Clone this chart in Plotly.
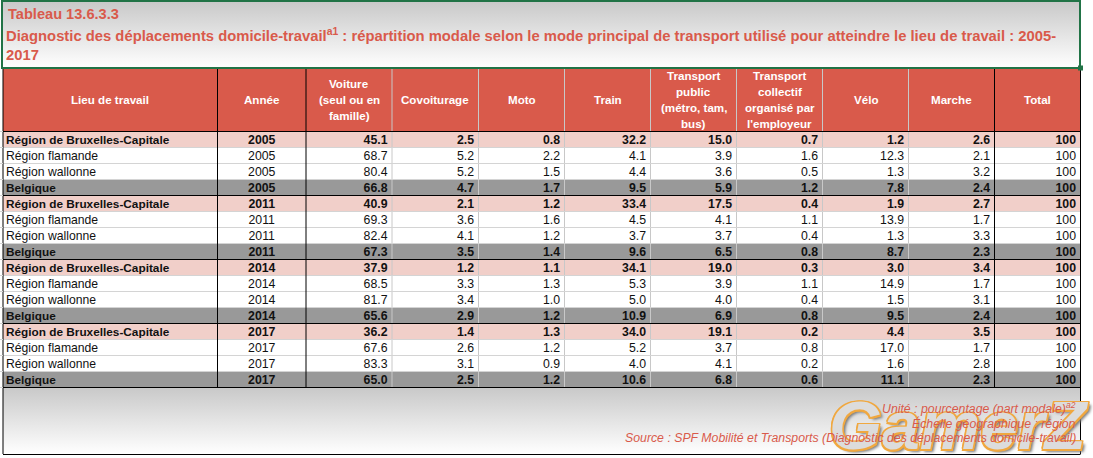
import plotly.graph_objects as go

W = 1093
H = 458

RED = "#d95a4b"
PINK = "#f1cfc9"
GREY = "#999999"

title_top = "Tableau 13.6.3.3"
title_line1 = "Diagnostic des déplacements domicile-travail<sup>a1</sup> : répartition modale selon le mode principal de transport utilisé pour atteindre le lieu de travail : 2005-"
title_line2 = "2017"

header_labels = [
    ["Lieu de travail"],
    ["Année"],
    ["Voiture", "(seul ou en", "famille)"],
    ["Covoiturage"],
    ["Moto"],
    ["Train"],
    ["Transport", "public", "(métro, tam,", "bus)"],
    ["Transport", "collectif", "organisé par", "l'employeur"],
    ["Vélo"],
    ["Marche"],
    ["Total"],
]

lieu = ["Région de Bruxelles-Capitale", "Région flamande", "Région wallonne", "Belgique"] * 4
annee = [2005] * 4 + [2011] * 4 + [2014] * 4 + [2017] * 4
voiture = [45.1, 68.7, 80.4, 66.8, 40.9, 69.3, 82.4, 67.3, 37.9, 68.5, 81.7, 65.6, 36.2, 67.6, 83.3, 65.0]
covoiturage = [2.5, 5.2, 5.2, 4.7, 2.1, 3.6, 4.1, 3.5, 1.2, 3.3, 3.4, 2.9, 1.4, 2.6, 3.1, 2.5]
moto = [0.8, 2.2, 1.5, 1.7, 1.2, 1.6, 1.2, 1.4, 1.1, 1.3, 1.0, 1.2, 1.3, 1.2, 0.9, 1.2]
train = [32.2, 4.1, 4.4, 9.5, 33.4, 4.5, 3.7, 9.6, 34.1, 5.3, 5.0, 10.9, 34.0, 5.2, 4.0, 10.6]
transport_public = [15.0, 3.9, 3.6, 5.9, 17.5, 4.1, 3.7, 6.5, 19.0, 3.9, 4.0, 6.9, 19.1, 3.7, 4.1, 6.8]
transport_collectif = [0.7, 1.6, 0.5, 1.2, 0.4, 1.1, 0.4, 0.8, 0.3, 1.1, 0.4, 0.8, 0.2, 0.8, 0.2, 0.6]
velo = [1.2, 12.3, 1.3, 7.8, 1.9, 13.9, 1.3, 8.7, 3.0, 14.9, 1.5, 9.5, 4.4, 17.0, 1.6, 11.1]
marche = [2.6, 2.1, 3.2, 2.4, 2.7, 1.7, 3.3, 2.3, 3.4, 1.7, 3.1, 2.4, 3.5, 1.7, 2.8, 2.3]
total = [100] * 16

footer_lines = [
    "Unité : pourcentage (part modale)<sup>a2</sup>",
    "Échelle géographique : région",
    "Source : SPF Mobilité et Transports (Diagnostic des déplacements domicile-travail)",
]

col_edges = [3, 217.5, 306, 392, 478.5, 564.5, 650.5, 736.5, 822.5, 908.5, 994.5, 1080.5]
black_edges = [3, 217.5, 306, 994.5, 1080.5]
HEADER_TOP = 68
BODY_TOP = 132
ROW_H = 16
N_ROWS = len(lieu)
FONT = "Liberation Sans"
SIZE = 11.6

row_y = [BODY_TOP + ROW_H * i + ROW_H / 2 + 0.7 for i in range(N_ROWS)]
row_weight = ["bold" if i % 4 in (0, 3) else "normal" for i in range(N_ROWS)]
label_size = [11.8 if w == "bold" else 12.2 for w in row_weight]

fig = go.Figure()


def gradient_box(y0, y1):
    fig.add_trace(go.Scatter(
        x=[3, 1080, 1080, 3, 3],
        y=[y0, y0, y1, y1, y0],
        mode="none",
        fill="toself",
        fillgradient=dict(type="vertical", colorscale=[[0, "#ffffff"], [1, "#c9c9c9"]]),
        hoverinfo="skip",
        showlegend=False,
    ))


gradient_box(2, 68)
gradient_box(388, 454)

# header and row fills: 0 header, 1 pink, 2 white, 3 grey
fill_kinds = [0] + [{0: 1, 3: 3}.get(i % 4, 2) for i in range(N_ROWS)]
fig.add_trace(go.Heatmap(
    x=[col_edges[0], col_edges[-1]],
    y=[HEADER_TOP] + [BODY_TOP + ROW_H * i for i in range(N_ROWS + 1)],
    z=[[k] for k in fill_kinds],
    zmin=0,
    zmax=3,
    colorscale=[[0, RED], [0.33, RED], [0.33, PINK], [0.66, PINK], [0.66, "white"], [0.9, "white"], [0.9, GREY], [1, GREY]],
    showscale=False,
    hoverinfo="skip",
))


def add_column(texts, x, position, size=12.3):
    fig.add_trace(go.Scatter(
        x=[x] * N_ROWS,
        y=row_y,
        mode="text",
        text=texts,
        textposition=position,
        textfont=dict(family=FONT, size=size, color="#111111", weight=row_weight),
        cliponaxis=False,
        hoverinfo="skip",
        showlegend=False,
    ))


add_column(lieu, col_edges[0] + 3, "middle right", size=label_size)
add_column([str(a) for a in annee], (col_edges[1] + col_edges[2]) / 2, "middle center")
value_columns = [voiture, covoiturage, moto, train, transport_public, transport_collectif, velo, marche]
for i, series in enumerate(value_columns):
    add_column([f"{v:.1f}" for v in series], col_edges[i + 3] - 4.5, "middle left")
add_column([str(v) for v in total], col_edges[11] - 4.5, "middle left")

shapes = []
# light inner grid
for x in col_edges:
    if x not in black_edges:
        shapes.append(dict(type="line", x0=x, x1=x, y0=HEADER_TOP, y1=388, line=dict(color="#c8c8c8", width=1)))
for i in range(N_ROWS):
    y = BODY_TOP + ROW_H * i - 0.5
    shapes.append(dict(type="line", x0=3, x1=1080.5, y0=y, y1=y, line=dict(color="#d4d4d4", width=1)))
# black frame lines
for x in black_edges:
    shapes.append(dict(type="line", x0=x, x1=x, y0=HEADER_TOP, y1=388, line=dict(color="black", width=1)))
for k in range(5):
    y = BODY_TOP - 0.5 + k * 4 * ROW_H
    shapes.append(dict(type="line", x0=3, x1=1080.5, y0=y, y1=y, line=dict(color="black", width=1)))
# bottom box, open at the top
for x0, y0, x1, y1 in [(3, 388, 3, 454), (1080.5, 388, 1080.5, 454), (3, 454.5, 1080.5, 454.5)]:
    shapes.append(dict(type="line", x0=x0, x1=x1, y0=y0, y1=y1, line=dict(color="black", width=1)))
# selected title cell
shapes.append(dict(type="rect", x0=2, x1=1080, y0=1, y1=68, line=dict(color="#217346", width=2)))
shapes.append(dict(type="rect", x0=1078, x1=1083, y0=65.5, y1=70.5,
                   fillcolor="#217346", line=dict(width=0)))
# sheet gridlines left of the table
for k in range(N_ROWS + 1):
    y = BODY_TOP - 0.5 + k * ROW_H
    shapes.append(dict(type="line", x0=0, x1=3, y0=y, y1=y, line=dict(color="#d4d4d4", width=1)))


def text_note(text, x, y, size, color, anchor="left", bold=False, italic=False):
    font = dict(family=FONT, size=size, color=color)
    if bold:
        font["weight"] = "bold"
    if italic:
        font["style"] = "italic"
    return dict(x=x, y=y, text=text, xanchor=anchor, yanchor="middle", showarrow=False, font=font)


notes = [
    text_note(title_top, 6, 14, 14.6, RED, bold=True),
    text_note(title_line1, 4, 35, 14.8, RED, bold=True),
    text_note(title_line2, 4, 55, 14.8, RED, bold=True),
]

# header lines are placed one by one to keep the 16px line pitch
for i, lines in enumerate(header_labels):
    xc = (col_edges[i] + col_edges[i + 1]) / 2
    y_start = 99 - (len(lines) - 1) * 8
    for j, line in enumerate(lines):
        notes.append(text_note(line, xc, y_start + j * 16, SIZE, "white", anchor="center", bold=True))

orange = "#f0a840"
notes.append(dict(
    x=958, y=425, text="GamerZ", xanchor="center", yanchor="middle", showarrow=False,
    font=dict(
        family=FONT, size=68, color="#dcdcdc", weight="bold", style="italic",
        shadow=f"1.5px 0 0 {orange}, -1.5px 0 0 {orange}, 0 1.5px 0 {orange}, 0 -1.5px 0 {orange}, "
               f"1.5px 1.5px 0 {orange}, -1.5px -1.5px 0 {orange}, 1.5px -1.5px 0 {orange}, -1.5px 1.5px 0 {orange}, "
               "3px 3px 3px #777777",
    ),
))

for line, y in zip(footer_lines, [408, 423, 437.5]):
    notes.append(text_note(line, 1078, y, 12.3, RED, anchor="right", italic=True))

fig.update_layout(
    width=W,
    height=H,
    autosize=False,
    margin=dict(l=0, r=0, t=0, b=0),
    paper_bgcolor="white",
    plot_bgcolor="white",
    showlegend=False,
    xaxis=dict(range=[0, W], visible=False, fixedrange=True),
    yaxis=dict(range=[H, 0], visible=False, fixedrange=True),
    shapes=shapes,
    annotations=notes,
)

fig.write_html("out.html", config=dict(displayModeBar=False),
               post_script="document.body.style.margin='0';")
